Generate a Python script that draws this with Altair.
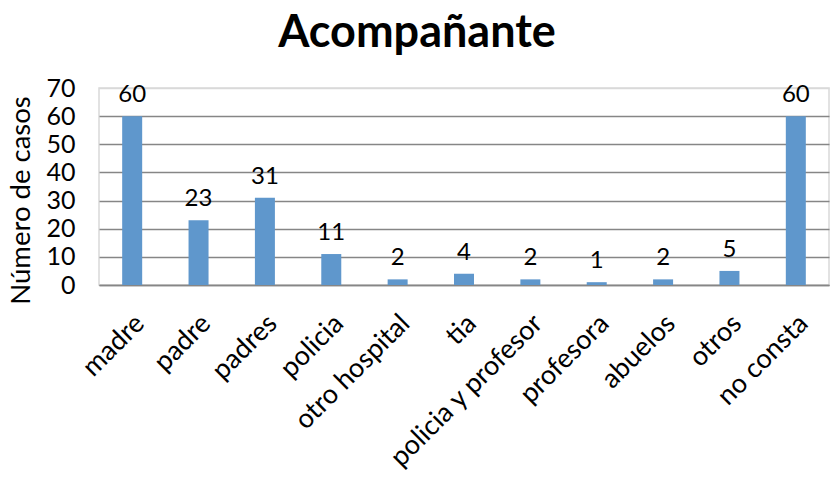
import altair as alt
import pandas as pd

categorias = ["madre", "padre", "padres", "policia", "otro hospital", "tia",
              "policia y profesor", "profesora", "abuelos", "otros", "no consta"]
casos = [60, 23, 31, 11, 2, 4, 2, 1, 2, 5, 60]
ticks_y = [0, 10, 20, 30, 40, 50, 60, 70]

df = pd.DataFrame({"cat": categorias, "n": casos})
FONT = "Lato"

x = alt.X("cat:N", sort=categorias, title=None,
          scale=alt.Scale(paddingInner=0.7, paddingOuter=0.35),
          axis=alt.Axis(labelAngle=-45, labelAlign="right", labelBaseline="middle",
                        labelFontSize=27, labelFont=FONT, labelColor="#000000",
                        labelPadding=34, labelOffset=8, ticks=False, domainColor="#868686",
                        domainWidth=1.5, grid=False, labelOverlap=False, labelLimit=400))
y = alt.Y("n:Q", title="Número de casos",
          scale=alt.Scale(domain=[0, 70], nice=False),
          axis=alt.Axis(values=ticks_y, tickCount=8, ticks=False, domain=False,
                        labelFontSize=25, labelFont=FONT, labelColor="#000000",
                        labelPadding=24, labelOverlap=False,
                        titleFontSize=27.5, titleFont=FONT, titleY=112,
                        titleFontWeight="normal", titleColor="#000000", titlePadding=10,
                        gridColor=alt.condition("datum.value == 70", alt.value("#D9D9D9"),
                                                alt.value("#868686")),
                        gridWidth=1.5))

bars = alt.Chart(df).mark_bar(color="#5F97CC", size=20).encode(x=x, y=y)
labels = alt.Chart(df).mark_text(dy=-21, fontSize=24, font=FONT, color="#000000").encode(
    x=x, y=y, text="n:Q")

chart = (bars + labels).properties(
    width=730, height=197,
    title=alt.TitleParams("Acompañante", fontSize=45, font=FONT, fontWeight="bold",
                          color="#000000", anchor="middle", offset=20, dx=-47),
    autosize=alt.AutoSizeParams(type="none"),
    padding={"left": 99, "top": 88, "right": 1, "bottom": 192},
).configure_view(stroke="#D9D9D9", strokeWidth=1.5)

chart.save("out.html", embed_options={"renderer": "svg", "actions": False})
